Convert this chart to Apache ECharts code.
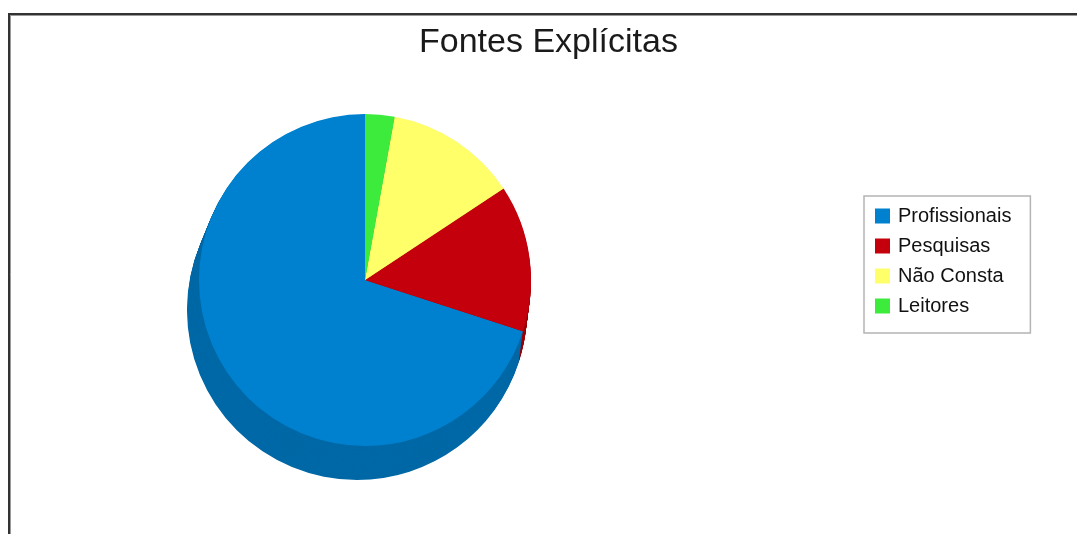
<!DOCTYPE html>
<html>
<head>
<meta charset="utf-8">
<script src="https://cdn.jsdelivr.net/npm/echarts@6/dist/echarts.min.js"></script>
<style>
html,body{margin:0;padding:0;background:#fff;}
#chart{width:1077px;height:534px;}
</style>
</head>
<body>
<div id="chart"></div>
<script>
// Data
const categories = ['Profissionais', 'Pesquisas', 'Não Consta', 'Leitores'];
const values = [49, 10, 9, 2];
const topColors = ['#0081CF', '#C3000B', '#FFFF6A', '#3CEB3C'];
const sideColors = ['#0068A6', '#970008', '#C8C850', '#2CB82C'];
const titleText = 'Fontes Explícitas';

const chart = echarts.init(document.getElementById('chart'), null, {renderer: 'canvas'});

const cx = 365, cy = 280, r = 166;
const steps = 30;
const series = [];
for (let k = steps; k >= 1; k -= 1) {
  const t = k / steps;
  series.push({
    type: 'pie',
    silent: true,
    startAngle: 90,
    clockwise: false,
    center: [cx - 8 * t, cy + 30 * t],
    radius: [0, r + 4 * t],
    label: {show: false},
    labelLine: {show: false},
    emphasis: {disabled: true},
    itemStyle: {borderWidth: 0},
    data: categories.map((c, i) => ({name: c, value: values[i], itemStyle: {color: sideColors[i]}}))
  });
}
series.push({
  type: 'pie',
  startAngle: 90,
  clockwise: false,
  center: [cx, cy],
  radius: [0, r],
  label: {show: false},
  labelLine: {show: false},
  emphasis: {disabled: true},
  itemStyle: {borderWidth: 0},
  data: categories.map((c, i) => ({name: c, value: values[i], itemStyle: {color: topColors[i]}}))
});

chart.setOption({
  animation: false,
  backgroundColor: '#fff',
  title: {
    text: titleText,
    left: 414,
    top: 21,
    textStyle: {fontFamily: 'Liberation Sans, Arial, sans-serif', fontSize: 34, fontWeight: 'normal', color: '#1a1a1a'}
  },
  tooltip: {show: false},
  legend: {
    orient: 'vertical',
    left: 864,
    top: 196,
    padding: [10, 19, 17, 11],
    borderColor: '#b4b4b4',
    borderWidth: 1.5,
    itemWidth: 15,
    itemHeight: 15,
    itemGap: 10,
    icon: 'rect',
    selectedMode: false,
    textStyle: {fontFamily: 'Liberation Sans, Arial, sans-serif', fontSize: 20, color: '#111', padding: [0, 0, 0, 3]},
    data: categories.map((c, i) => ({name: c, itemStyle: {color: topColors[i]}}))
  },
  graphic: [
    {type: 'line', shape: {x1: 9, y1: 14, x2: 1077, y2: 14}, style: {stroke: '#333', lineWidth: 2}, silent: true},
    {type: 'line', shape: {x1: 9, y1: 15.5, x2: 1077, y2: 15.5}, style: {stroke: '#999', lineWidth: 1}, silent: true},
    {type: 'line', shape: {x1: 9, y1: 13, x2: 9, y2: 534}, style: {stroke: '#333', lineWidth: 2}, silent: true},
    {type: 'line', shape: {x1: 10.5, y1: 15, x2: 10.5, y2: 534}, style: {stroke: '#999', lineWidth: 1}, silent: true}
  ],
  series: series
});
</script>
</body>
</html>
